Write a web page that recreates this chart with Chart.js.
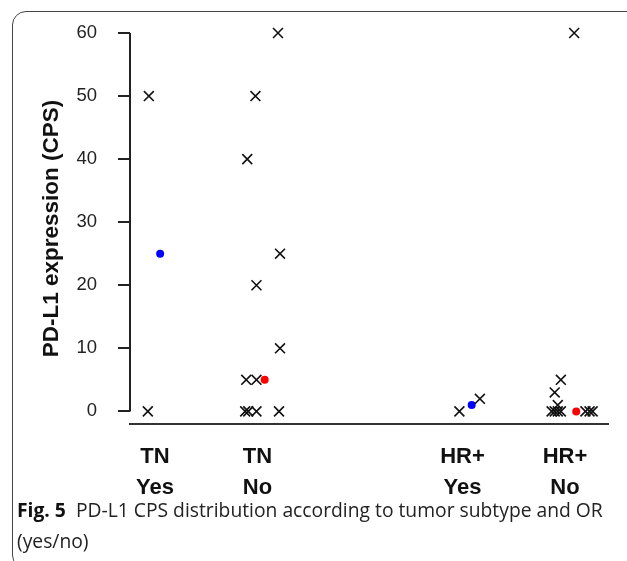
<!DOCTYPE html>
<html>
<head>
<meta charset="utf-8">
<script src="https://cdn.jsdelivr.net/npm/chart.js@4"></script>
<style>
  html, body { margin: 0; padding: 0; background: #fff; }
  #frame { position: absolute; left: 12px; top: 11px; width: 700px; height: 556px;
           border: 1.5px solid #444; border-radius: 14px; }
  #wrap { position: absolute; left: 0; top: 0; width: 627px; height: 500px; }
  #cap { position: absolute; left: 17px; top: 494px; width: 600px;
         font-family: "Open Sans", sans-serif; font-size: 19.3px; line-height: 31px; color: #222; }
  #cap b { color: #111; }
</style>
</head>
<body>
<div id="frame"></div>
<div id="wrap"><canvas id="chart" width="627" height="500"></canvas></div>
<div id="cap"><b>Fig. 5</b>&nbsp; PD-L1 CPS distribution according to tumor subtype and OR (yes/no)</div>
<script>
// groups on the x axis
const groupPos = [1, 2, 4, 5];
const groupType = ['TN', 'TN', 'HR+', 'HR+'];
const groupOR = ['Yes', 'No', 'Yes', 'No'];
const yTicks = [0, 10, 20, 30, 40, 50, 60];

// individual patients (x = jittered group position, y = CPS)
const tnYesX = [0.94, 0.93];
const tnYesY = [50, 0];
const tnNoX = [2.20, 1.98, 1.90, 2.22, 1.99, 2.22, 1.89, 1.99, 1.88, 1.91, 1.99, 2.21];
const tnNoY = [60, 50, 40, 25, 20, 10, 5, 5, 0, 0, 0, 0];
const hrYesX = [3.97, 4.17];
const hrYesY = [0, 2];
const hrNoX = [5.09, 4.96, 4.90, 4.93, 4.87, 4.90, 4.93, 4.96, 5.20, 5.24, 5.27];
const hrNoY = [60, 5, 3, 1, 0, 0, 0, 0, 0, 0, 0];

// medians
const medianX = [1.05, 2.07, 4.09, 5.11];
const medianY = [25, 5, 1, 0];
const medianColor = ['#0000ff', '#ff0000', '#0000ff', '#ff0000'];

function pts(xs, ys){
  return xs.map((x, i) => ({x: x, y: ys[i]}));
}

function crossSet(xs, ys){
  return {
    data: pts(xs, ys),
    pointStyle: 'crossRot',
    pointRadius: 7,
    borderColor: '#111',
    borderWidth: 1.6,
    clip: false
  };
}

const yAxisLine = {
  id: 'yAxisLine',
  afterDraw(chart){
    const y = chart.scales.y;
    const x0 = chart.chartArea.left;
    const ctx = chart.ctx;
    ctx.save();
    ctx.strokeStyle = '#222';
    ctx.lineWidth = 2;
    ctx.beginPath();
    ctx.moveTo(x0, y.getPixelForValue(yTicks[0]));
    ctx.lineTo(x0, y.getPixelForValue(yTicks[yTicks.length - 1]));
    ctx.stroke();
    ctx.restore();
  }
};

new Chart(document.getElementById('chart'), {
  type: 'scatter',
  data: {
    datasets: [
      crossSet(tnYesX, tnYesY),
      crossSet(tnNoX, tnNoY),
      crossSet(hrYesX, hrYesY),
      crossSet(hrNoX, hrNoY),
      {
        data: pts(medianX, medianY),
        pointStyle: 'circle',
        pointRadius: 4,
        backgroundColor: medianColor,
        borderColor: medianColor,
        borderWidth: 0,
        clip: false
      }
    ]
  },
  options: {
    responsive: false,
    animation: false,
    devicePixelRatio: 1,
    layout: { padding: { top: 33, right: 19, left: 0, bottom: 0 } },
    plugins: { legend: { display: false }, tooltip: { enabled: false } },
    scales: {
      x: {
        type: 'linear',
        min: 0.756,
        max: 5.42,
        afterBuildTicks: s => { s.ticks = groupPos.map(v => ({value: v})); },
        afterFit: s => { s.height = 76; },
        grid: { display: false },
        border: { display: true, color: '#333', width: 2 },
        ticks: {
          autoSkip: false,
          maxRotation: 0,
          padding: 9,
          color: '#111',
          font: { family: 'Liberation Sans', size: 22, weight: 'bold', lineHeight: 1.42 },
          callback: v => {
            const i = groupPos.indexOf(v);
            return [groupType[i], groupOR[i]];
          }
        }
      },
      y: {
        min: -2,
        max: 60,
        afterBuildTicks: s => { s.ticks = yTicks.map(v => ({value: v})); },
        afterFit: s => { s.width = 130; },
        border: { display: false },
        grid: { drawOnChartArea: false, tickLength: 12, color: '#222', lineWidth: 2 },
        ticks: {
          padding: 21,
          color: '#222',
          font: { family: 'Liberation Sans', size: 18.5 }
        },
        title: {
          display: true,
          text: 'PD-L1 expression (CPS)',
          color: '#111',
          font: { family: 'Liberation Sans', size: 22.5, weight: 'bold', lineHeight: 1.2 },
          padding: { top: 38, bottom: 0 }
        }
      }
    }
  },
  plugins: [yAxisLine]
});
</script>
</body>
</html>
